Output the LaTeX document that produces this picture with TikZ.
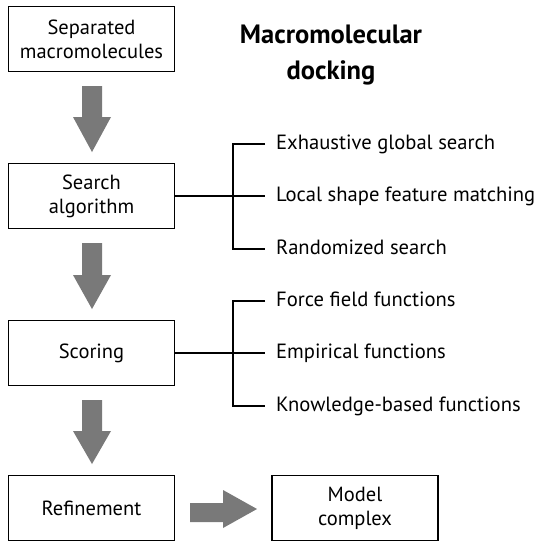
\documentclass[tikz,border=0pt]{standalone}
\usepackage{fontspec}
\setmainfont{PT Sans}
\begin{document}
\begin{tikzpicture}[x=1pt,y=-1pt,
  box/.style={draw=black,line width=1.5pt,minimum width=166pt,minimum height=65pt,align=center,font=\fontsize{20.5}{24}\selectfont,inner sep=0pt},
  lbl/.style={anchor=west,font=\fontsize{20.6}{24}\selectfont,inner sep=0pt,text height=14pt,text depth=4pt},
  br/.style={line width=1.3pt},
  bigarrow/.style={fill=gray!95!black,draw=none}]
\useasboundingbox (0,0) rectangle (549,550);
\fill[white] (0,0) rectangle (549,550);
\node[box] (b1) at (91.5,39) {Separated\\macromolecules};
\node[box] (b2) at (91.5,196) {Search\\algorithm};
\node[box] (b3) at (91.5,353) {Scoring};
\node[box] (b4) at (91.5,508) {Refinement};
\node[box] (b5) at (355,508) {Model\\complex};
\node[font=\fontsize{26.5}{36}\selectfont\bfseries,align=center,inner sep=0pt] (title) at (331,55) {Macromolecular\\docking};
% down arrows
\foreach \t/\b/\p in {86/117/152, 243/275/309, 400/431/464}{
  \fill[bigarrow] (82,\t) -- (102,\t) -- (102,\b) -- (111,\b) -- (92,\p) -- (73,\b) -- (82,\b) -- cycle;
}
% right arrow
\fill[bigarrow] (190,503) -- (223,503) -- (223,490) -- (257,509) -- (223,528) -- (223,522) -- (190,522) -- cycle;
\coordinate (vx) at (233,0);
\coordinate (ex) at (265,0);
% branches search
\node[lbl] (e1) at (276,144) {Exhaustive global search};
\node[lbl] (e2) at (276,196) {Local shape feature matching};
\node[lbl] (e3) at (276,249) {Randomized search};
\draw[br] (b2.east) -- (b2.east -| ex);
\draw[br] (e1.west -| ex) -- (e1.west -| vx) -- (e3.west -| vx) -- (e3.west -| ex);
% branches scoring
\node[lbl] (f1) at (276,301) {Force field functions};
\node[lbl] (f2) at (276,353) {Empirical functions};
\node[lbl] (f3) at (276,406) {Knowledge-based functions};
\draw[br] (b3.east) -- (b3.east -| ex);
\draw[br] (f1.west -| ex) -- (f1.west -| vx) -- (f3.west -| vx) -- (f3.west -| ex);
\end{tikzpicture}
\end{document}
